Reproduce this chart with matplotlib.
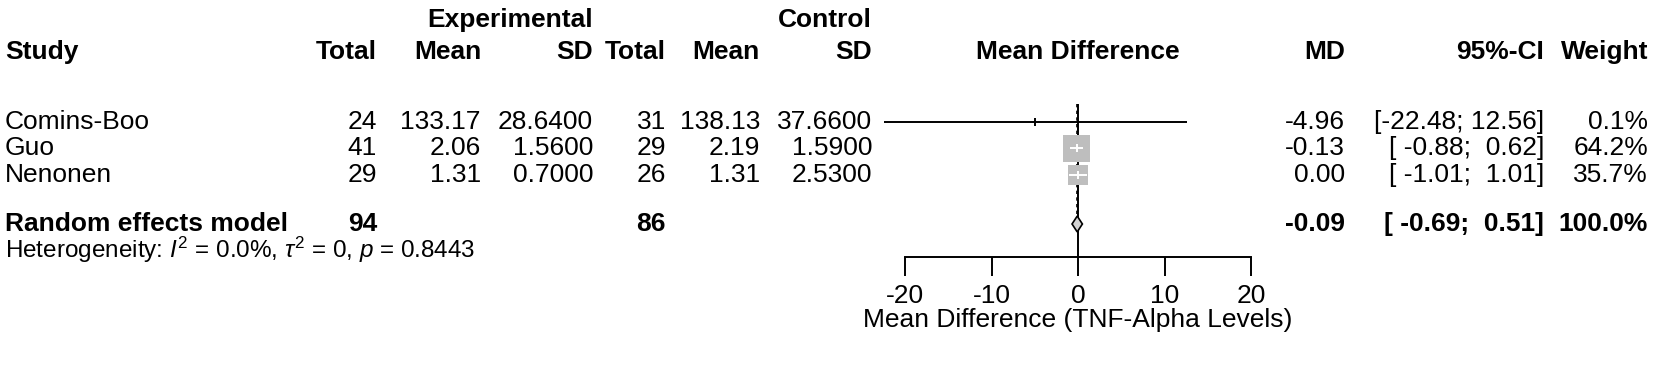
import matplotlib
matplotlib.use('Agg')
import matplotlib.pyplot as plt
import numpy as np

plt.rcParams['font.family'] = ['Liberation Sans', 'DejaVu Sans']
plt.rcParams['mathtext.fontset'] = 'custom'
plt.rcParams['mathtext.rm'] = 'Liberation Sans'
plt.rcParams['mathtext.it'] = 'Liberation Sans:italic'
plt.rcParams['mathtext.bf'] = 'Liberation Sans:bold'

# study level data
studies = ['Comins-Boo', 'Guo', 'Nenonen']
exp_total = [24, 41, 29]
exp_mean = [133.17, 2.06, 1.31]
exp_sd = [28.64, 1.56, 0.70]
ctrl_total = [31, 29, 26]
ctrl_mean = [138.13, 2.19, 1.31]
ctrl_sd = [37.66, 1.59, 2.53]
md = [-4.96, -0.13, 0.00]
ci_low = [-22.48, -0.88, -1.01]
ci_high = [12.56, 0.62, 1.01]
weight = [0.1, 64.2, 35.7]

# pooled (random effects)
pooled_md = -0.09
pooled_low = -0.69
pooled_high = 0.51
pooled_exp_total = 94
pooled_ctrl_total = 86
het_i2 = 0.0
het_tau2 = 0
het_p = 0.8443

x_ticks = [-20, -10, 0, 10, 20]
x_label = 'Mean Difference (TNF-Alpha Levels)'

# layout (pixels of the 1654x373 canvas)
W, H = 1654, 373
ROW0, ROWH = 122, 26.4
FS = 19


def row(px):
    return (px - ROW0) / ROWH


fig = plt.figure(figsize=(W / 100, H / 100), dpi=100)
ylim = (row(H), row(0))

ax = fig.add_axes([0, 0, 1, 1])
ax.set_xlim(0, W)
ax.set_ylim(*ylim)
ax.axis('off')

cols = {'exp_total': 377, 'exp_mean': 481, 'exp_sd': 593,
        'ctrl_total': 666, 'ctrl_mean': 760, 'ctrl_sd': 872,
        'md': 1345, 'ci': 1544, 'w': 1648}

# headers
y_grp, y_hdr = row(20), row(52)
ax.text(cols['exp_sd'], y_grp, 'Experimental', ha='right', va='center', fontsize=FS, fontweight='bold')
ax.text(cols['ctrl_sd'], y_grp, 'Control', ha='right', va='center', fontsize=FS, fontweight='bold')
ax.text(5, y_hdr, 'Study', ha='left', va='center', fontsize=FS, fontweight='bold')
for key, lab in [('exp_total', 'Total'), ('exp_mean', 'Mean'), ('exp_sd', 'SD'),
                 ('ctrl_total', 'Total'), ('ctrl_mean', 'Mean'), ('ctrl_sd', 'SD'),
                 ('md', 'MD'), ('ci', '95%-CI'), ('w', 'Weight')]:
    ax.text(cols[key], y_hdr, lab, ha='right', va='center', fontsize=FS, fontweight='bold')


def ci_str(lo, hi):
    return '[%6.2f; %5.2f]' % (lo, hi)


# study rows
for i, name in enumerate(studies):
    vals = {'exp_total': str(exp_total[i]), 'exp_mean': '%.2f' % exp_mean[i],
            'exp_sd': '%.4f' % exp_sd[i], 'ctrl_total': str(ctrl_total[i]),
            'ctrl_mean': '%.2f' % ctrl_mean[i], 'ctrl_sd': '%.4f' % ctrl_sd[i],
            'md': '%.2f' % md[i], 'ci': ci_str(ci_low[i], ci_high[i]),
            'w': '%.1f%%' % weight[i]}
    ax.text(5, i, name, ha='left', va='center', fontsize=FS)
    for key, s in vals.items():
        ax.text(cols[key], i, s, ha='right', va='center', fontsize=FS)

# summary row
y_sum = row(224)
ax.text(5, y_sum, 'Random effects model', ha='left', va='center', fontsize=FS, fontweight='bold')
for key, s in [('exp_total', str(pooled_exp_total)), ('ctrl_total', str(pooled_ctrl_total)),
               ('md', '%.2f' % pooled_md), ('ci', ci_str(pooled_low, pooled_high)),
               ('w', '100.0%')]:
    ax.text(cols[key], y_sum, s, ha='right', va='center', fontsize=FS, fontweight='bold')

het = (r'Heterogeneity: $\mathit{I}^2$ = %.1f%%, $\tau^2$ = %d, $\mathit{p}$ = %.4f'
       % (het_i2, het_tau2, het_p))
ax.text(5, row(250), het, ha='left', va='center', fontsize=17.5)

# forest panel
fa = fig.add_axes([905 / W, 0, 346 / W, 1])
fa.set_xlim(-20, 20)
fa.set_ylim(*ylim)
fa.patch.set_visible(False)
for s in ['top', 'left', 'right']:
    fa.spines[s].set_visible(False)
axis_row = row(257)
fa.spines['bottom'].set_position(('data', axis_row))
fa.spines['bottom'].set_bounds(-20, 20)
fa.spines['bottom'].set_linewidth(1.4)
fa.set_yticks([])
fa.set_xticks(x_ticks)
fa.set_xticklabels([str(t) for t in x_ticks])
fa.tick_params(axis='x', direction='out', length=14, width=1.4, labelsize=FS, pad=5.5)
fa.set_xlabel(x_label, fontsize=FS, labelpad=0)
ax.text(905 + 346 / 2, y_hdr, 'Mean Difference', ha='center', va='center', fontsize=FS, fontweight='bold')

rows = np.arange(len(studies))
fa.vlines(0, row(104), axis_row, color='black', lw=1.4)
fa.vlines(pooled_md, row(104), y_sum - 0.3, color='black', lw=1.2, linestyles=(0, (2, 2)))

box_scale = 5.87
sizes = [box_scale * w for w in weight]
fa.scatter(md, rows, s=sizes, marker='s', color='#BEBEBE', linewidths=0, zorder=3)
px_per_unit = 346 / 40
for i in rows:
    half = np.sqrt(sizes[i]) / 72 * 100 / 2 / px_per_unit
    inside = ci_low[i] >= md[i] - half and ci_high[i] <= md[i] + half
    c = 'white' if inside else 'black'
    fa.hlines(i, ci_low[i], ci_high[i], color=c, lw=1.4, zorder=4, clip_on=False)
    fa.vlines(md[i], i - 0.15, i + 0.15, color=c, lw=1.4, zorder=4)

fa.fill([pooled_low, pooled_md, pooled_high, pooled_md],
        [y_sum, y_sum - 0.3, y_sum, y_sum + 0.3],
        facecolor='#D3D3D3', edgecolor='black', lw=1.2, zorder=5)

fig.savefig('out.png', dpi=100)
